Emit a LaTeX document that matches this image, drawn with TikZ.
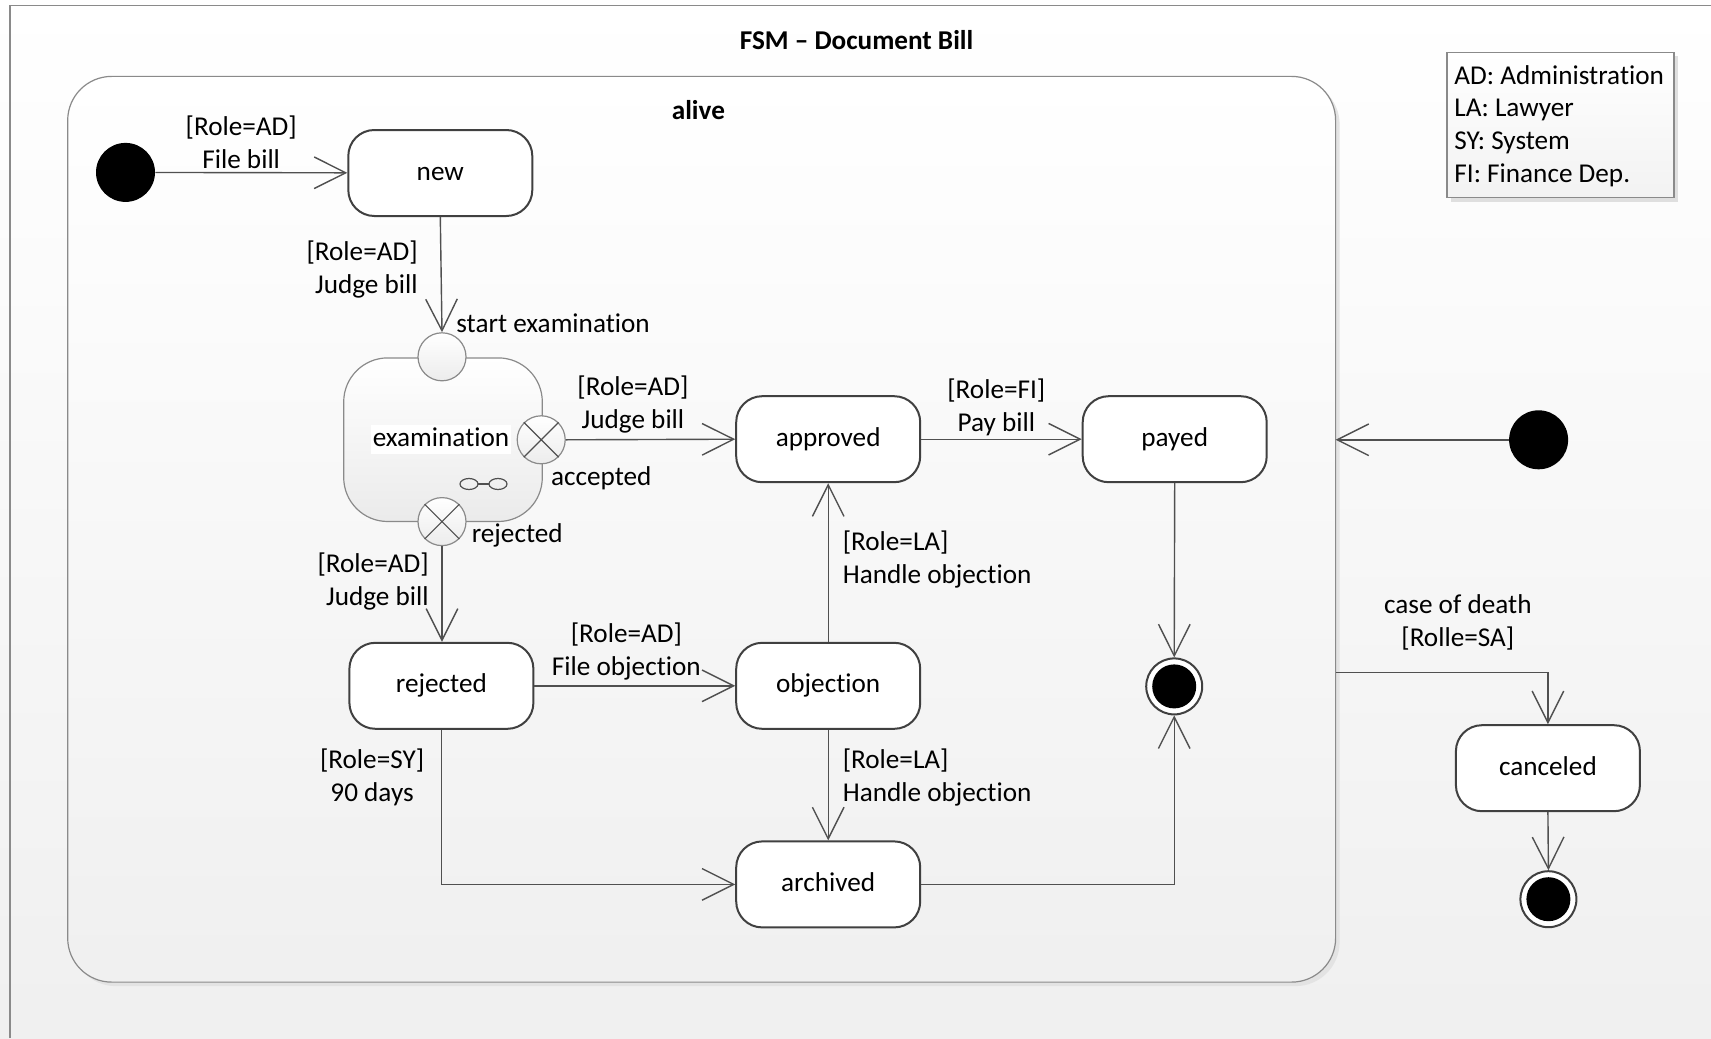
\documentclass[tikz,border=0pt]{standalone}
\usepackage{fontspec}
\setmainfont[Ligatures=NoCommon]{Carlito}
\usetikzlibrary{arrows.meta,calc}
\definecolor{bord}{HTML}{404040}
\definecolor{conncol}{HTML}{505050}
\definecolor{framecol}{HTML}{8A8A8A}
\begin{document}
\begin{tikzpicture}[x=0.5pt,y=-0.5pt,
  font=\fontsize{13.6}{16.5}\selectfont,
  >={Straight Barb[length=15.8pt,width=15.8pt]},
  stbox/.style={draw=bord, line width=1pt, fill=white, rounded corners=13pt,
    minimum width=92pt, minimum height=43pt, inner sep=0pt, text height=9.6pt, text depth=2.6pt},
  trans/.style={draw=conncol, line width=0.7pt, ->},
  lbl/.style={align=center, inner sep=0pt},
  initst/.style={circle, fill=black, minimum size=29.5pt, inner sep=0pt},
  finalst/.style={circle, draw=bord, line width=1pt, fill=white, minimum size=28pt, inner sep=0pt},
  pointst/.style={circle, draw=framecol, line width=0.6pt, top color=white, bottom color=gray!15,
    minimum size=24pt, inner sep=0pt}
]
\useasboundingbox (0,0) rectangle (1711,1038);
% background
\shade[top color=white, bottom color=gray!12] (0,0) rectangle (1711,1038);
\draw[framecol, line width=0.6pt] (10,1038) -- (10,5.5) -- (1711,5.5);
\node[font=\fontsize{13.6}{16.5}\selectfont\bfseries, inner sep=0pt] (title) at (856.6,40.4) {FSM – Document Bill};

% legend
\fill[gray!25] (1451,56.4) rectangle (1678,201.5);
\draw[framecol, line width=0.6pt, top color=white, bottom color=gray!10] (1447,52.4) rectangle (1674,197.5);
\node[lbl, align=left, anchor=west, font=\fontsize{13.6}{16.4}\selectfont] (legend) at (1454,126) {AD: Administration\\LA: Lawyer\\SY: System\\FI: Finance Dep.};

% alive container
\fill[gray!22, rounded corners=22pt] (71.7,80.4) rectangle (1339.6,986.1);
\draw[framecol, line width=0.6pt, rounded corners=22pt, top color=white, bottom color=gray!12] (67.7,76.4) rectangle (1335.6,982.1);
\node[font=\fontsize{13.6}{16.5}\selectfont\bfseries, inner sep=0pt] (alivelbl) at (698.4,110) {alive};
\coordinate (aliveE) at (1335.6,439.8);
\coordinate (aliveD) at (1335.6,672.2);

% examination composite
\node[draw=framecol, line width=0.6pt, rounded corners=22pt, minimum width=99.3pt, minimum height=81.8pt,
  top color=white, bottom color=gray!16, inner sep=0pt] (exam) at (443,439.7) {};
\node[fill=white, inner sep=1pt, text height=9.6pt, text depth=2.6pt] (examlbl) at (441,439.5) {examination};
\draw[conncol, line width=0.6pt] (469,484) ellipse [x radius=4.5pt, y radius=2.75pt];
\draw[conncol, line width=0.6pt] (498,484) ellipse [x radius=4.5pt, y radius=2.75pt];
\draw[conncol, line width=0.6pt] (478,484) -- (489,484);
\node[pointst] (entry) at (442,356.8) {};
\node[pointst] (exacc) at (541.2,439.8) {};
\draw[conncol, line width=0.6pt] (exacc.45) -- (exacc.225) (exacc.135) -- (exacc.315);
\node[pointst] (exrej) at (442,521.6) {};
\draw[conncol, line width=0.6pt] (exrej.45) -- (exrej.225) (exrej.135) -- (exrej.315);

% states
\node[initst] (init1) at (125.5,172.4) {};
\node[stbox] (new) at (440.3,173) {new};
\node[stbox] (approved) at (828.2,439.2) {approved};
\node[stbox] (payed) at (1174.7,439.2) {payed};
\node[stbox] (rejected) at (441.4,685.8) {rejected};
\node[stbox] (objection) at (828.2,685.8) {objection};
\node[stbox] (archived) at (828.2,884.4) {archived};
\node[stbox] (canceled) at (1547.9,768.2) {canceled};
\node[finalst] (final1) at (1174.2,686.4) {};
\fill[black] (final1.center) circle (11pt);
\node[finalst] (final2) at (1548.4,899.2) {};
\fill[black] (final2.center) circle (11pt);
\node[initst] (init2) at (1538.6,439.8) {};

% transitions
\draw[trans] (init1) -- (new);
\draw[trans] (new.south) -- (entry.north);
\draw[trans] (exacc.east) -- (approved.west);
\draw[trans] (approved.east) -- (payed.west);
\draw[trans] (payed.south) -- (final1.north);
\draw[trans] (exrej.south) -- (rejected.north -| exrej.south);
\draw[trans] (rejected.east) -- (objection.west);
\draw[trans] (objection.north) -- (approved.south);
\draw[trans] (objection.south) -- (archived.north);
\draw[trans] (rejected.south) |- (archived.west);
\draw[trans] (archived.east) -| (final1.south);
\draw[trans] (init2) -- (aliveE);
\draw[trans] (aliveD) -| (canceled.north);
\draw[trans] (canceled.south) -- (final2.north);

% labels
\node[lbl] (l1) at (241.2,141.9) {[Role=AD]\\File bill};
\node[lbl, align=right, anchor=east] (l2) at (418,269.5) {[Role=AD]\\Judge bill};
\node[lbl, anchor=west] (l3) at (456,323) {start examination};
\node[lbl] (l4) at (633,404.8) {[Role=AD]\\Judge bill};
\node[lbl] (l5) at (601.3,478) {accepted};
\node[lbl] (l6) at (517.2,535.8) {rejected};
\node[lbl] (l7) at (996.3,407) {[Role=FI]\\Pay bill};
\node[lbl, align=left, anchor=west] (l8) at (842.4,559.8) {[Role=LA]\\Handle objection};
\node[lbl, align=right, anchor=east] (l9) at (429,581.6) {[Role=AD]\\Judge bill};
\node[lbl] (l10) at (626.4,651.4) {[Role=AD]\\File objection};
\node[lbl] (l11) at (372.1,777) {[Role=SY]\\90 days};
\node[lbl, align=left, anchor=west] (l12) at (842.4,777) {[Role=LA]\\Handle objection};
\node[lbl] (l13) at (1457.8,622) {case of death\\{}[Rolle=SA]};
\end{tikzpicture}
\end{document}
